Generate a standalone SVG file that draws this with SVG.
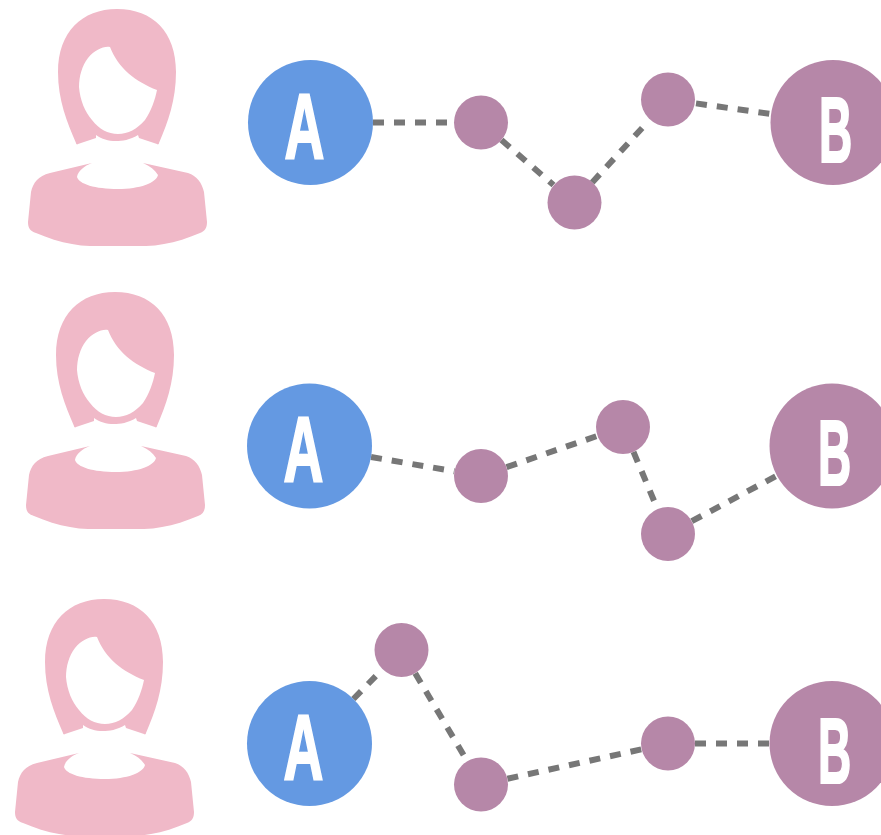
<svg xmlns="http://www.w3.org/2000/svg" width="881" height="835" viewBox="0 0 881 835">
<style>
.a{fill:#6499E2}.m{fill:#B687A8}.p{fill:#F0B9C8}
.c line{stroke:#777;stroke-width:6;stroke-dasharray:11 10;fill:none}
.t{font-family:"Liberation Sans",Arial,sans-serif;font-weight:700;font-size:92px;fill:#fff;stroke:#fff;stroke-width:2.2px;text-anchor:middle}
</style>
<defs>
<g id="person" class="p">
<path fill-rule="evenodd" d="M76,143C67,122 58,100 58,72C58,32 82,9 117,9C153,9 176,32 176,72C176,100 168,122 159,143C159,144 158,145 157,144L139,138L138,135C130,140 122,141 116,141C108,141 102,139 96,135L96,138L78,144C77,145 76,144 76,143ZM110,47C103,46 95,50 88,58C82,66 79,76 79,87C80,100 85,112 92,120C99,129 108,134 118,134C128,134 137,129 145,120C151,111 155,100 157,90C136,82 118,68 110,47Z"/>
<path d="M92,163L50,173C38,176 33,183 31,192L28,222C28,228 30,231 36,233C48,238 60,242 72,244C78,245 84,246 90,246L146,246C152,246 158,245 164,244C176,242 188,238 200,233C205,231 207,228 207,222L204,192C202,183 197,176 188,173L143,163C150,166 155,170 158,175C156,183 140,189 118,189C95,189 79,184 77,177C78,171 84,166 92,163Z"/>
</g>
</defs>
<g id="connectors" class="c">
<line x1="373" y1="122.5" x2="454" y2="122.5"/>
<line x1="501.5" y1="140" x2="553.5" y2="185"/>
<line x1="592.2" y1="182.5" x2="643.3" y2="126.7"/>
<line x1="696" y1="103.4" x2="771" y2="114"/>
<line x1="371" y1="457" x2="454.4" y2="471.3"/>
<line x1="506.5" y1="467.2" x2="597.5" y2="435.8"/>
<line x1="633.5" y1="451.9" x2="657.5" y2="509.1"/>
<line x1="691.8" y1="521.2" x2="776.9" y2="475.6"/>
<line x1="353.4" y1="699" x2="382.5" y2="669.2"/>
<line x1="415.2" y1="673.2" x2="467.3" y2="761.3"/>
<line x1="507.4" y1="778.7" x2="641.6" y2="749.3"/>
<line x1="695" y1="743.5" x2="769.5" y2="743.5"/>
</g>
<g id="person1"><use href="#person"/></g>
<g id="person2"><use href="#person" transform="translate(-2,283)"/></g>
<g id="person3"><use href="#person" transform="translate(-13,590)"/></g>
<g id="a1"><circle class="a" cx="310.5" cy="122.5" r="62.5"/><text class="t" transform="translate(304.5,157.5) scale(.6,1)">A</text></g>
<g id="n11"><circle class="m" cx="481" cy="122.5" r="27"/></g>
<g id="n12"><circle class="m" cx="574.5" cy="202.5" r="27"/></g>
<g id="n13"><circle class="m" cx="668" cy="99.5" r="27"/></g>
<g id="b1"><circle class="m" cx="833" cy="122.5" r="62.5"/><text class="t" transform="translate(835.5,161.5) scale(.5,1)">B</text></g>
<g id="a2"><circle class="a" cx="309.5" cy="446" r="62.5"/><text class="t" transform="translate(303.5,481) scale(.6,1)">A</text></g>
<g id="n21"><circle class="m" cx="481" cy="476" r="27"/></g>
<g id="n22"><circle class="m" cx="623" cy="427" r="27"/></g>
<g id="n23"><circle class="m" cx="668" cy="534" r="27"/></g>
<g id="b2"><circle class="m" cx="832" cy="446" r="62.5"/><text class="t" transform="translate(834.5,485) scale(.5,1)">B</text></g>
<g id="a3"><circle class="a" cx="309.5" cy="743.5" r="62.5"/><text class="t" transform="translate(303.5,779) scale(.6,1)">A</text></g>
<g id="n31"><circle class="m" cx="401.5" cy="650" r="27"/></g>
<g id="n32"><circle class="m" cx="481" cy="784.5" r="27"/></g>
<g id="n33"><circle class="m" cx="668" cy="743.5" r="27"/></g>
<g id="b3"><circle class="m" cx="832" cy="743.5" r="62.5"/><text class="t" transform="translate(834.5,782.5) scale(.5,1)">B</text></g>
</svg>
